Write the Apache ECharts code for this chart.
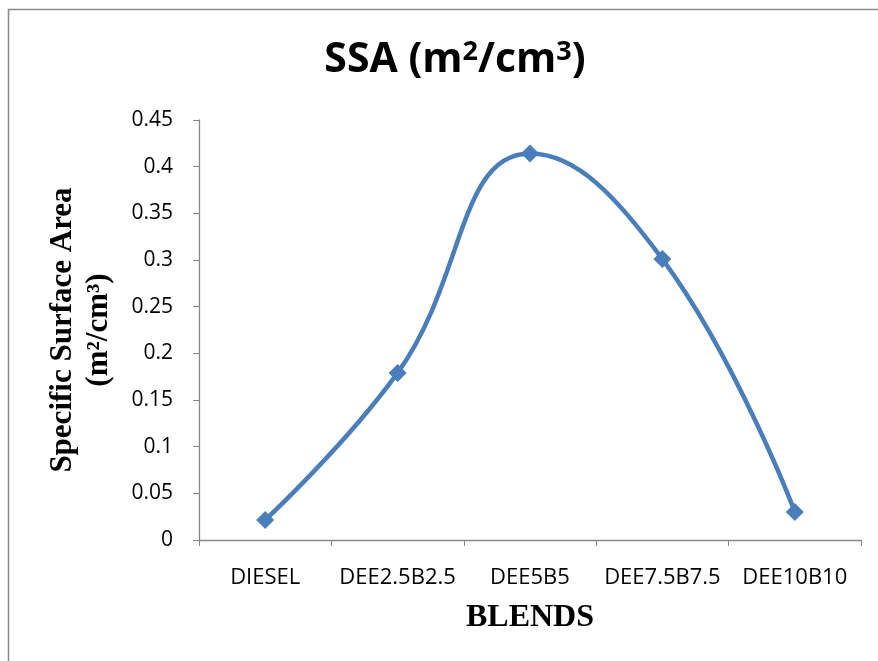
<!DOCTYPE html>
<html>
<head>
<meta charset="utf-8">
<script src="https://cdn.jsdelivr.net/npm/echarts@6/dist/echarts.min.js"></script>
<style>html,body{margin:0;padding:0;background:#fff;}#c{width:878px;height:661px;}</style>
</head>
<body>
<div id="c"></div>
<script>
var categories = ['DIESEL', 'DEE2.5B2.5', 'DEE5B5', 'DEE7.5B7.5', 'DEE10B10'];
var ssaValues = [0.0215, 0.179, 0.414, 0.301, 0.030];
var yTicks = [0, 0.05, 0.1, 0.15, 0.2, 0.25, 0.3, 0.35, 0.4, 0.45];

var chart = echarts.init(document.getElementById('c'));
var axisColor = '#868686';
chart.setOption({
  backgroundColor: '#fff',
  animation: false,
  title: {
    text: 'SSA (m{sup|2}/cm{sup|3})',
    left: 450, top: 34, textAlign: 'center',
    textStyle: {
      fontFamily: 'Open Sans', fontWeight: 'bold', fontSize: 41, color: '#000',
      rich: { sup: { fontFamily: 'Open Sans', fontWeight: 'bold', fontSize: 27, color: '#000', verticalAlign: 'top', padding: [0,0,16,0] } }
    }
  },
  graphic: [{
    type: 'rect', left: 6, top: 7, shape: { width: 900, height: 700 },
    style: { fill: 'none', stroke: '#8a8a8a', lineWidth: 1.5 }, silent: true
  }],
  grid: { left: 199, top: 120, right: 17, bottom: 121, containLabel: false },
  xAxis: {
    type: 'category', data: categories, boundaryGap: true,
    name: 'BLENDS', nameLocation: 'middle', nameGap: 62,
    nameTextStyle: { fontFamily: 'Liberation Serif', fontWeight: 'bold', fontSize: 32, color: '#000' },
    axisLine: { lineStyle: { color: axisColor, width: 1.3 } },
    axisTick: { show: true, length: 6, inside: false, alignWithLabel: false, lineStyle: { color: axisColor } },
    axisLabel: { margin: 27, fontFamily: 'Open Sans', fontSize: 22, color: '#000', interval: 0 },
    splitLine: { show: false }
  },
  yAxis: {
    type: 'value', min: 0, max: 0.45, interval: 0.05,
    name: 'Specific Surface Area\n(m²/cm³)', nameLocation: 'middle', nameGap: 82, nameRotate: 90,
    nameTextStyle: { fontFamily: 'Liberation Serif', fontWeight: 'bold', fontSize: 31, color: '#000', lineHeight: 36 },
    axisLine: { show: true, lineStyle: { color: axisColor, width: 1.3 } },
    axisTick: { show: true, length: 6, lineStyle: { color: axisColor } },
    axisLabel: { margin: 26, fontFamily: 'Open Sans', fontSize: 21, color: '#000',
      formatter: function (v) { return String(parseFloat(v.toFixed(2))); } },
    splitLine: { show: false }
  },
  series: [{
    type: 'line', data: ssaValues, smooth: 0.45,
    symbol: 'diamond', symbolSize: 18,
    lineStyle: { color: '#4a7ebb', width: 4.5 },
    itemStyle: { color: '#4a7ebb' }
  }]
});
</script>
</body>
</html>
